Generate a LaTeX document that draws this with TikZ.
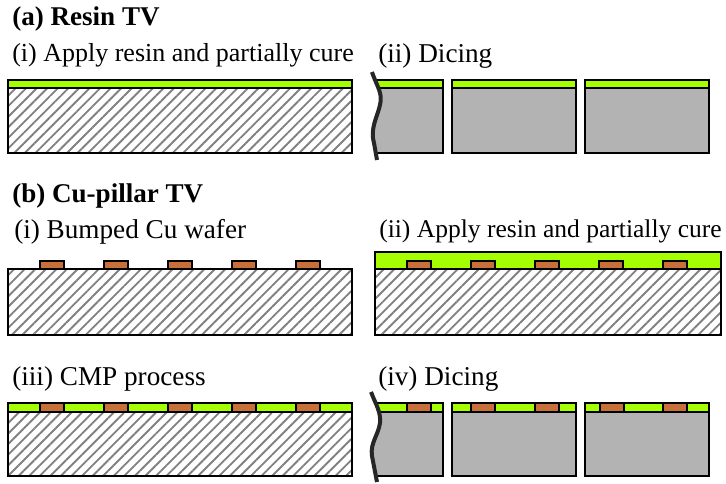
\documentclass[tikz,border=0pt]{standalone}
\usepackage{fontspec}
\setmainfont{Liberation Serif}
\usetikzlibrary{patterns.meta}
\definecolor{myresin}{HTML}{A6FF00}
\definecolor{mycopper}{HTML}{C8703A}
\definecolor{mysilicon}{HTML}{B3B3B3}
\definecolor{myhatch}{HTML}{808080}
\tikzset{
    steplabel/.style={anchor=base west,inner sep=0pt,font=\fontsize{20.4}{24}\selectfont},
    headlabel/.style={anchor=base west,inner sep=0pt,font=\fontsize{20.3}{24}\selectfont\bfseries},
    wafer/.style={draw=black,line width=1.8pt,pattern={Lines[angle=45,distance=5.6pt,line width=1.4pt]},pattern color=myhatch},
    die/.style={draw=black,line width=1.8pt,fill=mysilicon},
    resin/.style={draw=black,line width=1.8pt,fill=myresin},
    bump/.style={draw=black,line width=1.8pt,fill=mycopper},
    cutline/.style={draw=black!85,line width=3pt},
}
\begin{document}
\begin{tikzpicture}[x=0.75pt,y=-0.75pt]
    \useasboundingbox (0,0) rectangle (726,484);

    % (a) resin
    \draw[wafer] (8,88) rectangle (352,153);
    \draw[resin] (8,80) rectangle (352,88);
    \foreach \xa/\xb in {372/443,452/576,585/709}{
        \draw[die] (\xa,88) rectangle (\xb,153);
        \draw[resin] (\xa,80) rectangle (\xb,88);
    }
    \fill[white] (360,68) -- (372,72) .. controls (377,87) and (383,93) .. (380,105) .. controls (377,118) and (370,128) .. (374,143) -- (377,160) -- (360,160) -- cycle;
    \draw[cutline] (372,72) .. controls (377,87) and (383,93) .. (380,105) .. controls (377,118) and (370,128) .. (374,143) -- (377,160);

    % (b) i
    \draw[wafer] (8,269) rectangle (352,335);
    \foreach \xa in {40,104,168,232,296}
        \draw[bump] (\xa,261) rectangle ++(24,8);

    % (b) ii
    \draw[wafer] (375,269) rectangle (721,335);
    \draw[resin] (375,252) rectangle (721,269);
    \foreach \xa in {407,471,535,599,663}
        \draw[bump] (\xa,261) rectangle ++(24,8);

    % (b) iii
    \draw[wafer] (8,412) rectangle (352,476);
    \draw[resin] (8,403) rectangle (352,412);
    \foreach \xa in {40,104,168,232,296}
        \draw[bump] (\xa,403) rectangle ++(24,9);

    % (b) iv
    \foreach \xa/\xb in {372/443,452/576,585/709}{
        \draw[die] (\xa,412) rectangle (\xb,476);
        \draw[resin] (\xa,403) rectangle (\xb,412);
    }
    \foreach \xa in {407,471,535,600,663}
        \draw[bump] (\xa,403) rectangle ++(24,9);
    \fill[white] (360,388) -- (371,392) .. controls (376,405) and (381,412) .. (380,423) .. controls (378,436) and (370,443) .. (372,456) -- (377,482) -- (360,482) -- cycle;
    \draw[cutline] (371,392) .. controls (376,405) and (381,412) .. (380,423) .. controls (378,436) and (370,443) .. (372,456) -- (377,482);

    \node[headlabel] (headA) at (12,26) {(a) Resin TV};
    \node[steplabel,font=\fontsize{19.5}{24}\selectfont] (stepAi) at (12,62) {(i) Apply resin and partially cure};
    \node[steplabel] (stepAii) at (378,63) {(ii) Dicing};
    \node[headlabel] (headB) at (12,203) {(b) Cu-pillar TV};
    \node[steplabel] (stepBi) at (14,239) {(i) Bumped Cu wafer};
    \node[steplabel,font=\fontsize{19.15}{24}\selectfont] (stepBii) at (379,238) {(ii) Apply resin and partially cure};
    \node[steplabel] (stepBiii) at (12,386) {(iii) CMP process};
    \node[steplabel] (stepBiv) at (378,386) {(iv) Dicing};
\end{tikzpicture}
\end{document}
